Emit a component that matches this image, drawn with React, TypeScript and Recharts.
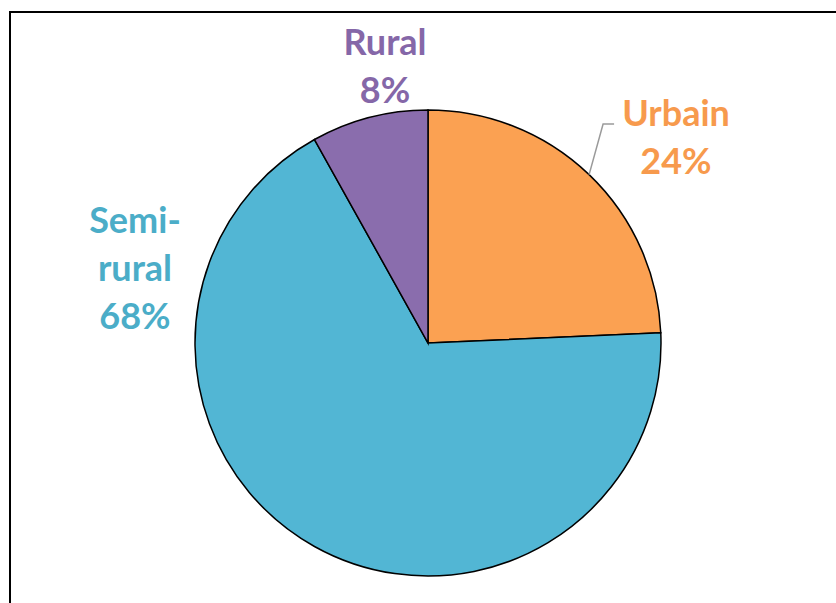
import React from "react";
import { PieChart, Pie, Cell } from "recharts";

const categories = ["Urbain", "Semi-rural", "Rural"];
const values = [24.3, 67.6, 8.1];
const nameLines = [["Urbain"], ["Semi-", "rural"], ["Rural"]];
const fills = ["#FBA152", "#52B6D4", "#8A6DAD"];
const textColors = ["#F79A4D", "#4BADC8", "#8567A8"];
// label anchor offsets from the pie centre (layout only)
const labelOffsets = [
  { dx: 248, dy: -231 },
  { dx: -293, dy: -124 },
  { dx: -43, dy: -302 },
];

const data = categories.map((name, i) => ({ name, value: values[i] }));
const total = values.reduce((a, b) => a + b, 0);

const CX = 428;
const CY = 343;
const R = 233;
const LINE_H = 48;

const renderLabel = (props: any) => {
  const { cx, cy, index, outerRadius, midAngle } = props;
  const off = labelOffsets[index];
  const lines = [...nameLines[index], `${Math.round((values[index] / total) * 100)}%`];
  const x = cx + off.dx;
  const y0 = cy + off.dy;
  const els: any[] = [];
  if (index === 0) {
    const rad = (Math.PI / 180) * midAngle;
    const sx = cx + outerRadius * Math.cos(rad);
    const sy = cy - outerRadius * Math.sin(rad);
    els.push(
      <polyline
        key="ll"
        points={`${sx},${sy} ${sx + 14},${y0 + 12} ${sx + 25},${y0 + 12}`}
        fill="none"
        stroke="#9a9a9a"
        strokeWidth={1.5}
      />
    );
  }
  lines.forEach((t, k) => {
    els.push(
      <text
        key={k}
        x={x}
        y={y0 + k * LINE_H}
        textAnchor="middle"
        dominantBaseline="central"
        fill={textColors[index]}
        fontFamily="Lato, 'Open Sans', sans-serif"
        fontWeight={700}
        fontSize={36}
      >
        {t}
      </text>
    );
  });
  return <g key={`lbl-${index}`}>{els}</g>;
};

export default function App() {
  return (
    <div style={{ position: "absolute", left: 0, top: 0, width: 836, height: 603, background: "#fff", overflow: "hidden" }}>
      <div
        style={{
          position: "absolute",
          left: 9,
          top: 11,
          width: 900,
          height: 700,
          borderLeft: "2.5px solid #000",
          borderTop: "2.5px solid #000",
        }}
      />
      <div style={{ position: "absolute", left: 0, top: 0 }}>
        <PieChart width={836} height={603} margin={{ top: 0, right: 0, bottom: 0, left: 0 }}>
          <Pie
            data={data}
            dataKey="value"
            nameKey="name"
            cx={CX}
            cy={CY}
            outerRadius={R}
            startAngle={90}
            endAngle={-270}
            stroke="#000"
            strokeWidth={1.5}
            label={renderLabel}
            labelLine={false}
            isAnimationActive={false}
          >
            {data.map((d, i) => (
              <Cell key={d.name} fill={fills[i]} />
            ))}
          </Pie>
        </PieChart>
      </div>
    </div>
  );
}
